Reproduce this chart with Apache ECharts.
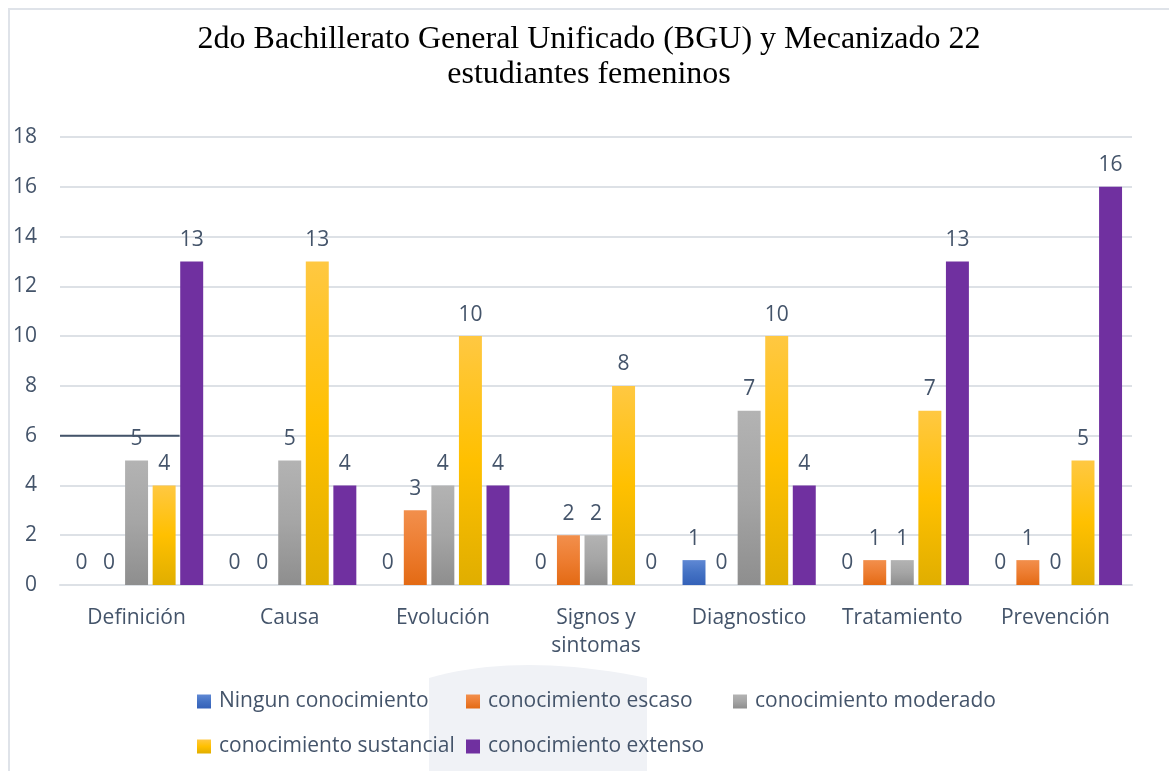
<!DOCTYPE html>
<html><head><meta charset="utf-8">
<script src="https://cdn.jsdelivr.net/npm/echarts@6/dist/echarts.min.js"></script>
<style>html,body{margin:0;padding:0;background:#fff}#c{width:1169px;height:771px}</style>
</head><body><div id="c"></div>
<script>
const categories = ['Definición','Causa','Evolución','Signos y\nsintomas','Diagnostico','Tratamiento','Prevención'];
const seriesNames = ['Ningun conocimiento','conocimiento escaso','conocimiento moderado','conocimiento sustancial','conocimiento extenso'];
const ningun     = [0,0,0,0,1,0,0];
const escaso     = [0,0,3,2,0,1,1];
const moderado   = [5,5,4,2,7,1,0];
const sustancial = [4,13,10,8,10,7,5];
const extenso    = [13,4,4,0,4,13,16];
const yTicks = [0,2,4,6,8,10,12,14,16,18];

const txt = '#44546A';
const font = 'Open Sans';
function grad(top, mid, bot){
  return {type:'linear',x:0,y:0,x2:0,y2:1,colorStops:[{offset:0,color:top},{offset:0.5,color:mid},{offset:1,color:bot}]};
}
const fills = [
  grad('#5F88D4','#4472C4','#3461B8'),
  grad('#F28F4C','#ED7D31','#E36A14'),
  grad('#B3B3B3','#A5A5A5','#8E8E8E'),
  grad('#FFC842','#FFC000','#E0AE00'),
  '#7030A0'
];
const allData = [ningun, escaso, moderado, sustancial, extenso];
const legendPos = [[197,691],[466,691],[733,691],[197,736],[466,736]];

const chart = echarts.init(document.getElementById('c'));
const option = {
  backgroundColor:'#fff',
  animation:false,
  title:{
    text:'2do Bachillerato General Unificado (BGU) y Mecanizado 22\nestudiantes femeninos',
    left:584, textAlign:'center', top:17,
    textStyle:{fontFamily:'Liberation Serif',fontSize:32,fontWeight:'normal',color:'#000',lineHeight:35}
  },
  legend: seriesNames.map((n,i)=>({
    data:[n], left:legendPos[i][0], top:legendPos[i][1], padding:0,
    itemWidth:14, itemHeight:14, itemGap:0, icon:'rect',
    textStyle:{fontFamily:font,fontSize:21,color:txt,padding:[0,0,0,3]},
    selectedMode:false
  })),
  grid:{left:60,right:37,top:137,bottom:186,containLabel:false},
  xAxis:{
    type:'category', data:categories,
    axisLine:{show:true,lineStyle:{color:'#DDE1E6',width:2}},
    axisTick:{show:false},
    axisLabel:{interval:0,fontFamily:font,fontSize:21,color:txt,margin:19,lineHeight:28}
  },
  yAxis:{
    type:'value', min:0, max:18, interval:2,
    axisLine:{show:false}, axisTick:{show:false},
    splitLine:{lineStyle:{color:'#DDE1E6',width:2}},
    axisLabel:{fontFamily:font,fontSize:21,color:txt,margin:23,
      formatter:v=>yTicks.includes(v)?String(v):''}
  },
  series: seriesNames.map((n,i)=>({
    name:n, type:'bar', data:allData[i],
    barCategoryGap:'13%', barGap:'20%',
    itemStyle:{color:fills[i]},
    label:{show:true,position:'top',distance:11,fontFamily:font,fontSize:21,color:txt}
  }))
};
chart.setOption(option);

// decorative artifacts from the reference image (border, faint watermark, stray line)
const y6 = chart.convertToPixel({yAxisIndex:0}, 6);
const x0 = chart.convertToPixel({xAxisIndex:0}, 0);
const wm = [];
for (let k=0;k<=20;k++){
  const t=k/20;
  const x = (1-t)*(1-t)*429 + 2*(1-t)*t*520 + t*t*647;
  const y = (1-t)*(1-t)*678 + 2*(1-t)*t*652 + t*t*678;
  wm.push([x,y]);
}
wm.push([647,771],[429,771]);
chart.setOption({
  graphic:[
    {type:'polygon',z:-10,silent:true,shape:{points:wm},style:{fill:'#F0F2F6'}},
    {type:'rect',z:-10,silent:true,shape:{x:9,y:9,width:1200,height:800},style:{fill:null,stroke:'#DFE3E9',lineWidth:2}},
    {type:'line',z:100,silent:true,shape:{x1:60,y1:y6,x2:x0+43,y2:y6},style:{stroke:'#44546A',lineWidth:2}}
  ]
});
</script></body></html>
